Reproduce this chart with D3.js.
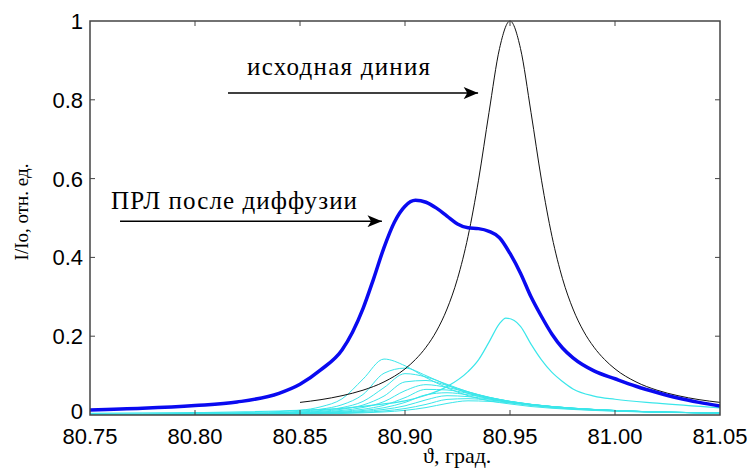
<!DOCTYPE html>
<html>
<head>
<meta charset="utf-8">
<script src="https://cdn.jsdelivr.net/npm/d3@7"></script>
<style>
  html, body { margin: 0; padding: 0; background: #fff; }
  svg { display: block; }
</style>
</head>
<body>
<div id="chart"></div>
<script>
// source line ("исходная линия")
const srcX = [80.85, 80.86, 80.87, 80.88, 80.89, 80.90, 80.905, 80.91, 80.915, 80.92, 80.925, 80.93, 80.935, 80.94, 80.945,
  80.95, 80.955, 80.96, 80.965, 80.97, 80.975, 80.98, 80.985, 80.99, 80.995, 81.00, 81.01, 81.02, 81.03, 81.04, 81.05]
const srcY = [0.032, 0.039, 0.049, 0.063, 0.084, 0.117, 0.141, 0.172, 0.213, 0.269, 0.346, 0.453, 0.596, 0.768, 0.930,
  1.0, 0.930, 0.768, 0.596, 0.453, 0.346, 0.269, 0.213, 0.172, 0.141, 0.117, 0.084, 0.063, 0.049, 0.039, 0.032]

// profile after diffusion (thick blue)
const sumX = [80.75, 80.775, 80.80, 80.82, 80.84, 80.85, 80.86, 80.87, 80.875, 80.88, 80.885, 80.89, 80.895, 80.90, 80.905,
  80.91, 80.915, 80.92, 80.925, 80.93, 80.935, 80.94, 80.945, 80.95, 80.955, 80.96, 80.965, 80.97, 80.975, 80.98, 80.99,
  81.00, 81.01, 81.02, 81.03, 81.04, 81.05]
const sumY = [0.013, 0.017, 0.024, 0.033, 0.055, 0.078, 0.115, 0.165, 0.21, 0.27, 0.345, 0.425, 0.49, 0.53, 0.545,
  0.54, 0.525, 0.505, 0.485, 0.475, 0.473, 0.466, 0.45, 0.41, 0.36, 0.30, 0.25, 0.205, 0.17, 0.145, 0.112,
  0.092, 0.073, 0.057, 0.043, 0.032, 0.023]

// surface layer component (largest cyan peak)
const topX = [80.75, 80.80, 80.85, 80.87, 80.89, 80.90, 80.91, 80.92, 80.93, 80.935, 80.94, 80.945, 80.948, 80.952,
  80.955, 80.96, 80.965, 80.97, 80.975, 80.98, 80.99, 81.00, 81.02, 81.05]
const topY = [0.004, 0.006, 0.012, 0.017, 0.028, 0.036, 0.05, 0.072, 0.11, 0.14, 0.185, 0.232, 0.246, 0.24,
  0.225, 0.18, 0.14, 0.108, 0.085, 0.066, 0.048, 0.040, 0.030, 0.018]

// diffusion layer components (thin cyan)
const layerX = [80.75, 80.80, 80.83, 80.85, 80.86, 80.87, 80.88, 80.89, 80.90, 80.91, 80.92, 80.93, 80.94, 80.95, 80.96,
  80.98, 81.00, 81.05]
const layer1 = [0.002, 0.004, 0.007, 0.012, 0.021, 0.041, 0.091, 0.142, 0.125, 0.095, 0.069, 0.049, 0.036, 0.028, 0.0215, 0.014, 0.0097, 0.0048]
const layer2 = [0.001, 0.0022, 0.0047, 0.0094, 0.0148, 0.026, 0.052, 0.106, 0.119, 0.100, 0.076, 0.055, 0.041, 0.031, 0.024, 0.015, 0.0103, 0.005]
const layer3 = [0.0009, 0.002, 0.004, 0.0076, 0.0115, 0.0188, 0.0345, 0.0695, 0.105, 0.0966, 0.078, 0.059, 0.044, 0.033, 0.0255, 0.016, 0.0109, 0.0051]
const layer4 = [0.0008, 0.0018, 0.0036, 0.0064, 0.0094, 0.0147, 0.0253, 0.048, 0.084, 0.0876, 0.075, 0.059, 0.045, 0.034, 0.026, 0.0165, 0.0111, 0.0052]
const layer5 = [0.0008, 0.0017, 0.0031, 0.0055, 0.0077, 0.0116, 0.019, 0.034, 0.0616, 0.077, 0.070, 0.0577, 0.045, 0.0347, 0.0268, 0.0168, 0.0112, 0.0051]
const layer6 = [0.0007, 0.0015, 0.0027, 0.0046, 0.0064, 0.0093, 0.0145, 0.0247, 0.044, 0.065, 0.0635, 0.055, 0.0443, 0.0347, 0.027, 0.017, 0.0113, 0.0051]
const layer7 = [0.0007, 0.0013, 0.0024, 0.004, 0.0053, 0.0076, 0.0114, 0.0185, 0.0319, 0.0513, 0.0565, 0.0513, 0.043, 0.0344, 0.0271, 0.0172, 0.0114, 0.0051]
const layer8 = [0.0006, 0.0012, 0.0021, 0.0034, 0.0045, 0.0062, 0.009, 0.0141, 0.0232, 0.0384, 0.049, 0.0466, 0.0406, 0.0335, 0.0268, 0.0171, 0.0114, 0.005]
const layer9 = [0.0005, 0.0011, 0.0018, 0.0028, 0.0036, 0.0049, 0.0069, 0.0103, 0.0164, 0.0269, 0.0395, 0.0415, 0.038, 0.0324, 0.0266, 0.0173, 0.0115, 0.005]
const layer10 = [0.0005, 0.0009, 0.0015, 0.0023, 0.003, 0.0039, 0.0054, 0.0078, 0.0118, 0.0189, 0.0293, 0.036, 0.0345, 0.0307, 0.0259, 0.0173, 0.0115, 0.005]
const layers = [layer1, layer2, layer3, layer4, layer5, layer6, layer7, layer8, layer9, layer10]

const xTicks = [80.75, 80.80, 80.85, 80.90, 80.95, 81.00, 81.05]
const yTicks = [0, 0.2, 0.4, 0.6, 0.8, 1]

const width = 747
const height = 468
const margin = { top: 21, right: 27, bottom: 53, left: 90 }
const innerW = width - margin.left - margin.right
const innerH = height - margin.top - margin.bottom

const svg = d3
  .select('#chart')
  .append('svg')
  .attr('width', width)
  .attr('height', height)

const x = d3.scaleLinear().domain([80.75, 81.05]).range([margin.left, margin.left + innerW])
const y = d3.scaleLinear().domain([0, 1]).range([margin.top + innerH, margin.top])

const defs = svg.append('defs')
defs
  .append('clipPath')
  .attr('id', 'plot-clip')
  .append('rect')
  .attr('x', margin.left)
  .attr('y', margin.top - 2)
  .attr('width', innerW)
  .attr('height', innerH + 2)

defs
  .append('marker')
  .attr('id', 'arrowhead')
  .attr('viewBox', '0 -5 12 10')
  .attr('refX', 12)
  .attr('refY', 0)
  .attr('markerWidth', 20)
  .attr('markerHeight', 12)
  .attr('markerUnits', 'userSpaceOnUse')
  .attr('orient', 'auto')
  .append('path')
  .attr('d', 'M0,-5L12,0L0,5L3,0Z')
  .attr('fill', '#000')

const plot = svg.append('g').attr('clip-path', 'url(#plot-clip)')

function lineFrom(xs) {
  return d3
    .line()
    .x((d, i) => x(xs[i]))
    .y((d) => y(d))
    .curve(d3.curveMonotoneX)
}

const layerLine = lineFrom(layerX)
plot
  .selectAll('path.layer')
  .data(layers)
  .join('path')
  .attr('class', 'layer')
  .attr('d', layerLine)
  .attr('fill', 'none')
  .attr('stroke', '#3ae6ea')
  .attr('stroke-width', 1)

plot
  .append('path')
  .attr('d', lineFrom(topX)(topY))
  .attr('fill', 'none')
  .attr('stroke', '#3ae6ea')
  .attr('stroke-width', 1.2)

plot
  .append('path')
  .attr('d', lineFrom(srcX)(srcY))
  .attr('fill', 'none')
  .attr('stroke', '#111')
  .attr('stroke-width', 1)

plot
  .append('path')
  .attr('d', lineFrom(sumX)(sumY))
  .attr('fill', 'none')
  .attr('stroke', '#0a0af0')
  .attr('stroke-width', 3.5)

// box and ticks (inward, all four sides)
const axisColor = '#444'
const tickLen = 5
const frame = svg.append('g')

frame
  .append('rect')
  .attr('x', margin.left)
  .attr('y', margin.top)
  .attr('width', innerW)
  .attr('height', innerH)
  .attr('fill', 'none')
  .attr('stroke', axisColor)
  .attr('stroke-width', 1.5)

frame
  .selectAll('g.xt')
  .data(xTicks.slice(1, -1))
  .join((enter) => {
    const g = enter.append('g').attr('class', 'xt')
    g.append('line').attr('y1', y(0)).attr('y2', y(0) - tickLen)
    g.append('line').attr('y1', y(1)).attr('y2', y(1) + tickLen)
    return g
  })
  .selectAll('line')
  .attr('x1', function () { return x(d3.select(this.parentNode).datum()) })
  .attr('x2', function () { return x(d3.select(this.parentNode).datum()) })
  .attr('stroke', axisColor)
  .attr('stroke-width', 1)

frame
  .selectAll('g.yt')
  .data(yTicks.slice(1, -1))
  .join((enter) => {
    const g = enter.append('g').attr('class', 'yt')
    g.append('line').attr('x1', x(80.75)).attr('x2', x(80.75) + tickLen)
    g.append('line').attr('x1', x(81.05)).attr('x2', x(81.05) - tickLen)
    return g
  })
  .selectAll('line')
  .attr('y1', function () { return y(d3.select(this.parentNode).datum()) })
  .attr('y2', function () { return y(d3.select(this.parentNode).datum()) })
  .attr('stroke', axisColor)
  .attr('stroke-width', 1)

const labelFont = 'Arial, "Liberation Sans", sans-serif'

svg
  .append('g')
  .selectAll('text')
  .data(xTicks)
  .join('text')
  .attr('x', (d) => x(d))
  .attr('y', y(0) + 29)
  .attr('text-anchor', 'middle')
  .attr('font-family', labelFont)
  .attr('font-size', 22)
  .attr('fill', '#000')
  .text((d) => d.toFixed(2))

svg
  .append('g')
  .selectAll('text')
  .data(yTicks)
  .join('text')
  .attr('x', x(80.75) - 7)
  .attr('y', (d) => y(d) - (d === 0 ? 4 : 0))
  .attr('dy', '0.36em')
  .attr('text-anchor', 'end')
  .attr('font-family', labelFont)
  .attr('font-size', 22)
  .attr('fill', '#000')
  .text((d) => String(d))

const serif = '"Liberation Serif", "Times New Roman", serif'

svg
  .append('text')
  .attr('x', 423)
  .attr('y', 463)
  .attr('font-family', serif)
  .attr('font-size', 22)
  .attr('fill', '#000')
  .text('ϑ, град.')

svg
  .append('text')
  .attr('transform', `translate(28, 212) rotate(-90)`)
  .attr('text-anchor', 'middle')
  .attr('font-family', serif)
  .attr('font-size', 19)
  .attr('fill', '#000')
  .text('I/Io, отн. ед.')

// annotations with arrows
const notes = [
  { text: 'исходная диния', tx: 80.8248, ty: 0.863, len: 183, x0: 80.8157, x1: 80.9348, ya: 0.817 },
  { text: 'ПРЛ после диффузии', tx: 80.760, ty: 0.523, len: 246, x0: 80.7643, x1: 80.889, ya: 0.492 },
]

const note = svg.append('g').selectAll('g').data(notes).join('g')

note
  .append('text')
  .attr('x', (d) => x(d.tx))
  .attr('y', (d) => y(d.ty))
  .attr('font-family', serif)
  .attr('font-size', 25)
  .attr('textLength', (d) => d.len)
  .attr('lengthAdjust', 'spacing')
  .attr('fill', '#000')
  .text((d) => d.text)

note
  .append('line')
  .attr('x1', (d) => x(d.x0))
  .attr('x2', (d) => x(d.x1))
  .attr('y1', (d) => y(d.ya))
  .attr('y2', (d) => y(d.ya))
  .attr('stroke', '#000')
  .attr('stroke-width', 1.5)
  .attr('marker-end', 'url(#arrowhead)')
</script>
</body>
</html>
